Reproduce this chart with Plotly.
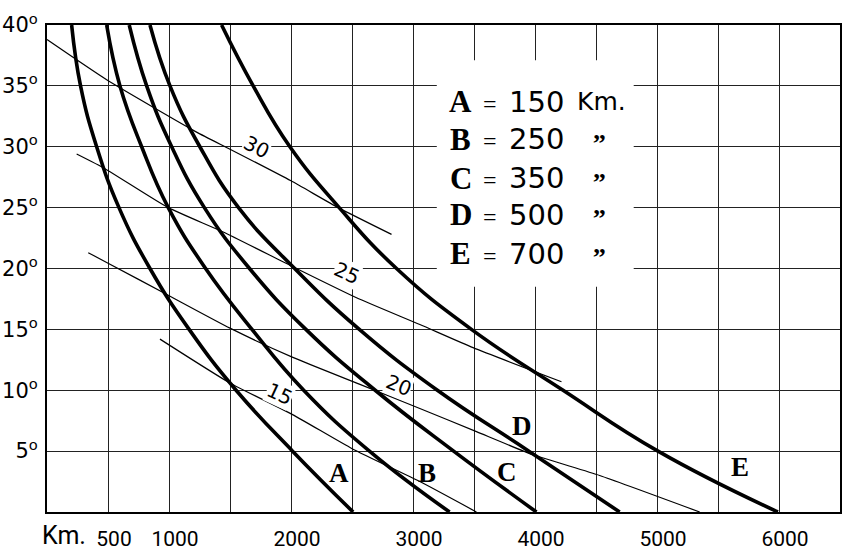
import plotly.graph_objects as go

# ---- data ----
angles = [40, 35, 30, 25, 20, 15, 10, 5, 0]
km_A = [202, 275, 407, 590, 844, 1165, 1550, 2013, 2509]
km_B = [489, 598, 776, 994, 1300, 1680, 2104, 2643, 3300]
km_C = [674, 817, 1022, 1290, 1660, 2122, 2690, 3333, 4012]
km_D = [844, 1008, 1253, 1570, 2030, 2560, 3200, 3950, 4694]
km_E = [1431, 1690, 1991, 2395, 2865, 3479, 4230, 5008, 5991]

curve_names = ["A", "B", "C", "D", "E"]
heights_km = [150, 250, 350, 500, 700]

iso30_km = [0, 489, 1226, 1500, 2000, 2387, 2824]
iso30_deg = [38.8, 35.5, 31.2, 29.8, 27.2, 25.0, 22.8]
iso25_km = [243, 475, 994, 1444, 2005, 2537, 3056, 3492, 4217]
iso25_deg = [29.4, 28.2, 25.0, 23.0, 20.2, 17.6, 15.4, 13.5, 10.7]
iso20_km = [338, 489, 994, 1500, 2015, 2560, 3056, 3520, 3984, 4530, 5350]
iso20_deg = [21.3, 20.5, 17.8, 15.1, 12.7, 10.5, 8.5, 6.6, 4.7, 3.0, 0]
iso15_km = [926, 1499, 2013, 2501, 3056, 3520]
iso15_deg = [14.2, 10.6, 8.0, 5.2, 2.5, 0]
iso_names = ["30", "25", "20", "15"]

x_tick_vals = [500, 1000, 2000, 3000, 4000, 5000, 6000]
x_tick_text = ["500", "1000", "2000", "3000", "4000", "5000", "6000"]
y_tick_vals = [5, 10, 15, 20, 25, 30, 35, 40]
y_tick_text = [f"{v}<sup>o</sup>" for v in y_tick_vals]

# ---- figure ----
fig = go.Figure()

iso_sets = [(iso30_km, iso30_deg), (iso25_km, iso25_deg),
            (iso20_km, iso20_deg), (iso15_km, iso15_deg)]
for name, (xs, ys) in zip(iso_names, iso_sets):
    fig.add_trace(go.Scatter(x=xs, y=ys, mode="lines", name=name,
                             line=dict(color="black", width=1.2, shape="spline", smoothing=0.5),
                             showlegend=False, hoverinfo="skip"))

for name, xs in zip(curve_names, [km_A, km_B, km_C, km_D, km_E]):
    fig.add_trace(go.Scatter(x=xs, y=angles, mode="lines", name=name,
                             line=dict(color="black", width=3.6, shape="spline", smoothing=1.3),
                             showlegend=False))

annotations = []
serif = "Liberation Serif, DejaVu Serif, serif"
sans = "DejaVu Sans, sans-serif"

# isoline labels (white background)
iso_label_pos = [(1718, 30.0, 27), (2455, 19.6, 24), (2878, 10.4, 22), (1909, 9.7, 25)]
for name, (lx, ly, ang) in zip(iso_names, iso_label_pos):
    annotations.append(dict(x=lx, y=ly, xref="x", yref="y", text=name, showarrow=False,
                            textangle=ang, bgcolor="white", borderpad=0,
                            font=dict(family="DejaVu Sans", size=20, color="black")))

# curve letters
letter_pos = [(2392, 3.2), (3113, 3.2), (3769, 3.3), (3892, 7.1), (5678, 3.7)]
for name, (lx, ly) in zip(curve_names, letter_pos):
    annotations.append(dict(x=lx, y=ly, xref="x", yref="y", text=f"<b>{name}</b>",
                            showarrow=False, font=dict(family=serif, size=27, color="black")))

# legend block
row_deg = [33.7, 30.6, 27.4, 24.4, 21.2]
for i, (name, h) in enumerate(zip(curve_names, heights_km)):
    yy = row_deg[i]
    annotations.append(dict(x=3392, y=yy, xref="x", yref="y", text=f"<b>{name}</b>",
                            showarrow=False, font=dict(family=serif, size=31, color="black")))
    annotations.append(dict(x=3629, y=yy, xref="x", yref="y", text="=", yshift=-2,
                            showarrow=False, font=dict(family=serif, size=24, color="black")))
    annotations.append(dict(x=3769, y=yy, xref="x", yref="y", text=str(h), xanchor="left",
                            showarrow=False, font=dict(family=sans, size=29, color="black")))
    if i == 0:
        annotations.append(dict(x=4330, y=yy, xref="x", yref="y", text="Km.", xanchor="left",
                                showarrow=False, font=dict(family=sans, size=25, color="black")))
    else:
        annotations.append(dict(x=4531, y=yy, xref="x", yref="y", text="<b>\u201e</b>", yshift=9,
                                showarrow=False, font=dict(family=serif, size=26, color="black")))

# "Km." before first x label
annotations.append(dict(x=336, y=-0.048, xref="x", yref="paper", text="Km.", xanchor="right",
                        yanchor="middle", showarrow=False,
                        font=dict(family="Roboto", size=25, color="black")))

shapes = [dict(type="rect", xref="x", yref="y", x0=3195, x1=4809, y0=18.5, y1=37.1,
               fillcolor="white", line=dict(width=0), layer="between")]

fig.update_layout(
    width=842, height=553,
    margin=dict(l=47, r=2, t=25, b=41),
    paper_bgcolor="white", plot_bgcolor="white",
    annotations=annotations, shapes=shapes,
    showlegend=False,
)
fig.update_xaxes(range=[0, 6500], tickmode="array", tickvals=x_tick_vals, ticktext=x_tick_text,
                 showgrid=True, gridcolor="#222", gridwidth=1,
                 minor=dict(dtick=500, tick0=0, showgrid=True, gridcolor="#222", gridwidth=1),
                 showline=True, mirror=True, linecolor="black", linewidth=2,
                 zeroline=False, ticks="", ticklabelstandoff=7, ticklabelshift=6,
                 tickfont=dict(family="Roboto", size=21, color="black"), automargin=False)
fig.update_yaxes(range=[0, 40], tickmode="array", tickvals=y_tick_vals, ticktext=y_tick_text,
                 showgrid=True, gridcolor="#222", gridwidth=1,
                 showline=True, mirror=True, linecolor="black", linewidth=2,
                 zeroline=False, ticks="", ticklabelstandoff=3,
                 tickfont=dict(family="DejaVu Sans", size=21, color="black"), automargin=False)

fig.write_html("out.html", config={"displayModeBar": False},
               post_script="document.body.style.margin='0px';")
